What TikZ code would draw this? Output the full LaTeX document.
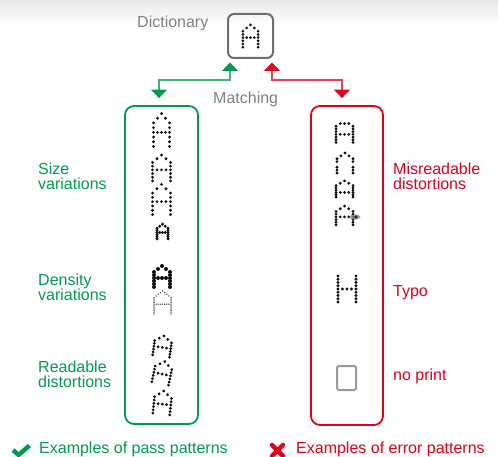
\documentclass[tikz,border=0pt]{standalone}
\usepackage{fontspec}
\setmainfont{Liberation Sans}
\usetikzlibrary{arrows.meta,calc}
\definecolor{pgreen}{HTML}{009B50}
\definecolor{pgreenl}{HTML}{45B27A}
\definecolor{pred}{HTML}{E2001A}
\definecolor{predl}{HTML}{EA4058}
\definecolor{pgray}{HTML}{808080}
\definecolor{boxgray}{HTML}{6E6E6E}
\definecolor{dotc}{HTML}{101010}
\definecolor{npgray}{HTML}{9A9A9A}
% dot patterns, unit grid: u in [-2,2], v in [-3.5,3.5]
\def\Astd{0/-3.5,-1/-2.5,1/-2.5,-2/-1.5,2/-1.5,-2/-0.5,2/-0.5,-2/0.5,2/0.5,-2/1.5,2/1.5,-2/2.5,2/2.5,-2/3.5,2/3.5,-1/0.5,0/0.5,1/0.5}
\def\Aflat{-1/-3.5,0/-3.5,1/-3.5,-2/-2.5,2/-2.5,-2/-1.5,2/-1.5,-2/-0.5,2/-0.5,-2/0.5,2/0.5,-2/1.5,2/1.5,-2/2.5,2/2.5,-2/3.5,2/3.5,-1/0.5,0/0.5,1/0.5}
\def\Abroken{0/-3.5,-1/-2.5,1/-2.5,-2/-1.5,2/-1.5,-2/-0.5,2/-0.5,-2/1.5,2/1.5,-2/2.5,2/2.5,-2/3.5,2/3.5}
\def\Alow{0/-3.5,-1/-2.5,1/-2.5,-2/-1.5,2/-1.5,-2/-0.5,2/-0.5,-2/0.5,2/0.5,-2/1.5,2/1.5,-2/2.5,2/2.5,-2/3.5,2/3.5,-1/1.5,0/1.5,1/1.5}
\def\Afine{0/-3.5,-0.5/-3,0.5/-3,-1/-2.5,1/-2.5,-1.5/-2,1.5/-2,-2/-1.5,2/-1.5,-2/-1,2/-1,-2/-0.5,2/-0.5,-2/0,2/0,-2/0.5,2/0.5,-2/1,2/1,-2/1.5,2/1.5,-2/2,2/2,-2/2.5,2/2.5,-2/3,2/3,-2/3.5,2/3.5,-1.5/0.5,-1/0.5,-0.5/0.5,0/0.5,0.5/0.5,1/0.5,1.5/0.5}
\def\Hpat{-2/-4,2/-4,-2/-3,2/-3,-2/-2,2/-2,-2/-1,2/-1,-2/0,2/0,-2/1,2/1,-2/2,2/2,-2/3,2/3,-2/4,2/4,-1/0,0/0,1/0}
% #1 cx, #2 cy, #3 sx, #4 sy, #5 dot radius, #6 pattern, #7 scope options
\newcommand\dotglyph[7]{%
  \begin{scope}[shift={(#1,#2)},#7]
    \foreach \u/\v in #6 {\fill[glyphdot] (\u*#3,\v*#4) circle[radius=#5];}
  \end{scope}}
\begin{document}
\begin{tikzpicture}[x=1pt,y=-1pt,
  glyphdot/.style={fill=dotc},
  lbl/.style={font=\fontsize{16}{15}\selectfont, inner sep=0pt, anchor=base west, align=left},
  glbl/.style={lbl, text=pgreen},
  rlbl/.style={lbl, text=pred},
  graylbl/.style={lbl, text=pgray},
  colbox/.style={line width=1.8pt, rounded corners=9pt, inner sep=0pt},
  gconn/.style={draw=pgreenl, line width=1.5pt, arrows={Triangle[width=16pt,length=8.5pt,color=pgreen]-Triangle[width=16pt,length=8.5pt,color=pgreen]}},
  rconn/.style={draw=predl, line width=1.5pt, arrows={Triangle[width=16pt,length=8.5pt,color=pred]-Triangle[width=16pt,length=8.5pt,color=pred]}}]
\useasboundingbox (0,0) rectangle (498,457);
\shade[top color=black!9, bottom color=white] (0,0) rectangle (498,24);

% boxes
\node[draw=boxgray, line width=2pt, rounded corners=6pt, minimum width=45pt, minimum height=44pt, inner sep=0pt] (dict) at (250.5,36) {};
\node[colbox, draw=pgreen, minimum width=73pt, minimum height=318pt] (pass) at (161.5,265) {};
\node[colbox, draw=pred, minimum width=72pt, minimum height=319pt] (fail) at (347,265.5) {};

% connectors
\draw[gconn] ($(pass.north)+(-2.5,-7)$) |- ($(dict.south)+(-20.5,21)$) -- ($(dict.south)+(-20.5,3.5)$);
\draw[rconn] ($(fail.north)+(-5,-7)$) |- ($(dict.south)+(21.5,21)$) -- ($(dict.south)+(21.5,3.5)$);

% labels (multi-line nodes: base = last line)
\node[graylbl] (dictlbl) at (137,28) {Dictionary};
\node[graylbl] (matchlbl) at (213,104) {Matching};
\node[glbl] (sizelbl) at (38,190) {Size\\variations};
\node[glbl] (denslbl) at (38,300.5) {Density\\variations};
\node[glbl] (readlbl) at (38,387) {Readable\\distortions};
\node[rlbl] (misrlbl) at (393,190) {Misreadable\\distortions};
\node[rlbl] (typolbl) at (393,296.5) {Typo};
\node[rlbl] (nplbl) at (393,380) {no print};
\node[glbl] (passlbl) at (39,453) {Examples of pass patterns};
\node[rlbl] (errlbl) at (296,453) {Examples of error patterns};

% dictionary glyph
\dotglyph{250.5}{36}{3.8}{3.2}{1.5}{\Astd}{}

% pass glyphs
\dotglyph{161.5}{130}{4}{4.7}{1.55}{\Astd}{}
\dotglyph{161.5}{168}{4.5}{3.7}{1.55}{\Astd}{}
\dotglyph{161.5}{199.5}{4.5}{4.3}{1.55}{\Astd}{}
\dotglyph{162.5}{231.5}{2.75}{2.1}{1.65}{\Astd}{}
\dotglyph{162}{276.5}{4}{3}{2}{\Astd}{}
\dotglyph{162.5}{302.5}{4.25}{3.3}{0.75}{\Afine}{glyphdot/.style={fill=black!75}}
\dotglyph{162.5}{346}{4.25}{2.9}{1.55}{\Astd}{rotate=-8}
\dotglyph{162.5}{372.5}{4.25}{3.2}{1.55}{\Astd}{rotate=-12}
\dotglyph{162.5}{402.5}{4.25}{3.3}{1.55}{\Astd}{rotate=-6}

% error glyphs
\dotglyph{344.5}{133}{4.25}{2.7}{1.55}{\Aflat}{}
\dotglyph{345}{163}{4}{2.86}{1.55}{\Abroken}{}
\dotglyph{344.5}{189}{4.25}{2.3}{1.55}{\Alow}{}
\dotglyph{344.5}{215.5}{4.25}{2.7}{1.55}{\Astd}{}
\fill[black!45, opacity=0.8] (355,217) ellipse[x radius=5.5, y radius=2.6];
\fill[black!85] (356,217) circle[radius=1.9];
\dotglyph{347}{289}{4.5}{3.25}{1.55}{\Hpat}{}
\node[draw=npgray, line width=2pt, rounded corners=1.5pt, minimum width=19pt, minimum height=24pt, inner sep=0pt] (noprint) at (346.5,378) {};

% legend icons
\draw[pgreen, line width=4.5pt, line join=miter, line cap=butt] (13,450) -- (18.5,455) -- (29.5,445.5);
\draw[pred, line width=4.5pt, line cap=round] (272,445) -- (283,456) (283,445) -- (272,456);
\end{tikzpicture}
\end{document}
